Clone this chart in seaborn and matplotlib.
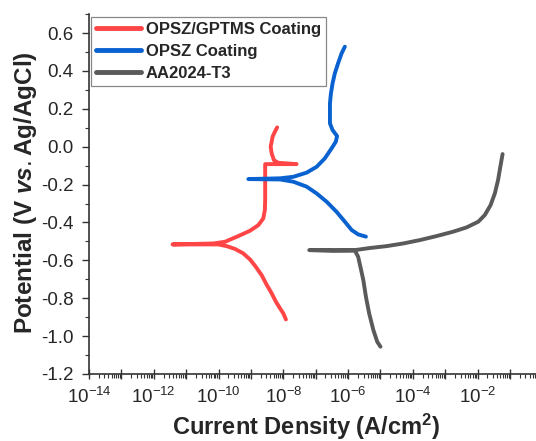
import numpy as np
import pandas as pd
import seaborn as sns
import matplotlib
matplotlib.use("Agg")
import matplotlib.pyplot as plt
from matplotlib.ticker import LogLocator, FuncFormatter, MultipleLocator, NullFormatter

# Tafel curves: log10 of current density (A/cm2) and potential (V)
gptms_logi = [-7.92, -8.00, -8.10, -8.23, -8.36, -8.52, -8.67, -8.85, -9.03, -9.24,
              -9.49, -9.75, -10.01, -10.57, -11.42, -10.88, -10.16, -9.80, -9.39, -9.03,
              -8.77, -8.62, -8.57, -8.56, -8.56, -8.56, -7.59, -8.16, -8.29, -8.36,
              -8.39, -8.33, -8.26, -8.19]
gptms_e = [-0.912, -0.880, -0.854, -0.818, -0.774, -0.727, -0.678, -0.634, -0.595, -0.563,
           -0.540, -0.525, -0.516, -0.516, -0.516, -0.514, -0.511, -0.502, -0.472, -0.444,
           -0.414, -0.379, -0.335, -0.282, -0.194, -0.092, -0.092, -0.085, -0.071, -0.035,
           0.000, 0.053, 0.079, 0.102]

opsz_logi = [-6.10, -6.20, -6.31, -6.41, -6.48, -6.53, -6.56, -6.56, -6.56, -6.48,
             -6.34, -6.38, -6.51, -6.72, -6.97, -7.28, -7.69, -8.10, -9.08, -8.10,
             -7.69, -7.28, -6.97, -6.66, -6.36, -6.10, -5.89, -5.69, -5.45]
opsz_e = [0.528, 0.493, 0.440, 0.387, 0.334, 0.281, 0.229, 0.176, 0.123, 0.088,
          0.056, 0.026, -0.009, -0.062, -0.106, -0.137, -0.159, -0.167, -0.171, -0.173,
          -0.185, -0.211, -0.247, -0.291, -0.343, -0.396, -0.440, -0.463, -0.475]

aa_logi = [-1.23, -1.30, -1.37, -1.47, -1.60, -1.78, -1.98, -2.34, -2.76, -3.27,
           -3.78, -4.30, -4.81, -5.33, -5.79, -6.46, -7.20, -6.46, -5.79, -5.69,
           -5.62, -5.53, -5.45, -5.35, -5.22, -5.10, -5.00]
aa_e = [-0.039, -0.106, -0.176, -0.247, -0.308, -0.361, -0.396, -0.426, -0.449, -0.472,
        -0.493, -0.511, -0.525, -0.535, -0.546, -0.547, -0.546, -0.549, -0.549, -0.581,
        -0.634, -0.704, -0.792, -0.880, -0.968, -1.030, -1.056]

labels = ["OPSZ/GPTMS Coating", "OPSZ Coating", "AA2024-T3"]
colors = ["#FF4545", "#0A62D0", "#5A5A5A"]

df = pd.concat([
    pd.DataFrame({"i": 10.0 ** np.array(gptms_logi), "E": gptms_e, "sample": labels[0]}),
    pd.DataFrame({"i": 10.0 ** np.array(opsz_logi), "E": opsz_e, "sample": labels[1]}),
    pd.DataFrame({"i": 10.0 ** np.array(aa_logi), "E": aa_e, "sample": labels[2]}),
])

sns.set_style("ticks")
plt.rcParams["font.family"] = ["Liberation Sans", "DejaVu Sans"]
plt.rcParams["mathtext.fontset"] = "custom"
plt.rcParams["mathtext.rm"] = "Liberation Sans"
plt.rcParams["mathtext.it"] = "Liberation Sans:italic:bold"
plt.rcParams["mathtext.bf"] = "Liberation Sans:bold"
plt.rcParams["axes.unicode_minus"] = False

fig = plt.figure(figsize=(5.36, 4.41), dpi=100)
ax = fig.add_axes([0.166, 0.152, 0.846, 0.816])

sns.lineplot(data=df, x="i", y="E", hue="sample", palette=colors, sort=False,
             estimator=None, linewidth=2.8, ax=ax)
for line in ax.get_lines():
    line.set_solid_joinstyle("round")
    line.set_solid_capstyle("round")

ax.set_xscale("log")
ax.set_xlim(1e-14, 1e0)
ax.set_ylim(-1.2, 0.7)


def dec_label(v, p):
    n = int(round(np.log10(v)))
    if n % 2 == 0 and n < 0:
        return r"$\mathregular{10^{%d}}$" % n
    return ""


ax.xaxis.set_major_locator(LogLocator(base=10, numticks=30))
ax.xaxis.set_major_formatter(FuncFormatter(dec_label))
ax.xaxis.set_minor_locator(LogLocator(base=10, subs=np.arange(2, 10), numticks=30))
ax.xaxis.set_minor_formatter(NullFormatter())
ax.yaxis.set_major_locator(MultipleLocator(0.2))
ax.yaxis.set_minor_locator(MultipleLocator(0.1))
ax.yaxis.set_major_formatter(FuncFormatter(lambda v, p: f"{v:.1f}"))

ax.tick_params(axis="both", which="major", labelsize=13.5, length=5, width=1, color="#333333")
ax.tick_params(axis="both", which="minor", direction="out", length=3, width=0.8, color="#333333")
ax.tick_params(axis="x", which="major", direction="inout", length=7, pad=6)
ax.tick_params(axis="y", which="major", direction="out", pad=6)

for s in ["top", "right"]:
    ax.spines[s].set_visible(False)
for s in ["left", "bottom"]:
    ax.spines[s].set_color("#333333")
    ax.spines[s].set_linewidth(1.2)

ax.set_xlabel("Current Density (A/cm$^{\\mathbf{2}}$)", fontsize=17, fontweight="bold")
ax.set_ylabel("Potential (V $\\mathit{vs.}$Ag/AgCl)", fontsize=17.5, fontweight="bold")
ax.xaxis.set_label_coords(0.478, -0.105)
ax.yaxis.set_label_coords(-0.11, 0.505)

leg = ax.legend(loc="upper left", bbox_to_anchor=(0.0, 1.0), borderaxespad=0.15,
                frameon=True, fancybox=False, edgecolor="#888888", framealpha=1,
                prop={"weight": "bold", "size": 12}, handlelength=2.7,
                handletextpad=0.25, labelspacing=0.42, borderpad=0.3, title=None)
leg.get_frame().set_linewidth(0.9)
for line in leg.get_lines():
    line.set_linewidth(3.5)

fig.savefig("out.png", dpi=100)
